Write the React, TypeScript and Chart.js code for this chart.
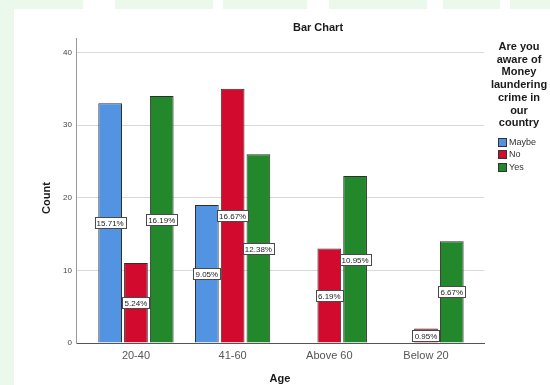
import React, { useEffect, useRef } from "react";
import { Chart, registerables } from "chart.js";

Chart.register(...registerables);

// Survey counts by age group, one array per answer
const AGE_GROUPS = ["20-40", "41-60", "Above 60", "Below 20"];
const MAYBE: (number | null)[] = [33, 19, null, null];
const NO: (number | null)[] = [11, 35, 13, 2];
const YES: (number | null)[] = [34, 26, 23, 14];
const SERIES_NAMES = ["Maybe", "No", "Yes"];
const SERIES_COLORS = ["#5294e2", "#d10a2e", "#23882b"];
const Y_TICKS = [0, 10, 20, 30, 40];
const LEGEND_TITLE = ["Are you", "aware of", "Money", "laundering", "crime in", "our", "country"];
const CHART_TITLE = "Bar Chart";
const X_TITLE = "Age";
const Y_TITLE = "Count";

const FONT = 'Arial, "Liberation Sans", sans-serif';
const SERIES = [MAYBE, NO, YES];
const TOTAL = SERIES.flat().reduce((a: number, v) => a + (v ?? 0), 0);

// Page backdrop: pale green sheet with a white panel on top
const backdrop = {
  id: "backdrop",
  beforeDraw(chart: Chart) {
    const { ctx, width, height } = chart;
    ctx.save();
    ctx.fillStyle = "#eaf9ec";
    ctx.fillRect(0, 0, width, height);
    ctx.fillStyle = "#ffffff";
    ctx.fillRect(14, 9, width - 14, height - 9);
    // breaks in the top band
    [[83, 32], [213, 10], [307, 22], [427, 16], [500, 10]].forEach(([x, w]) => {
      ctx.fillRect(x, 0, w, 9);
    });
    ctx.restore();
  },
};

// Percent-of-total boxes in the middle of each bar
const percentLabels = {
  id: "percentLabels",
  afterDatasetsDraw(chart: Chart) {
    const { ctx } = chart;
    ctx.save();
    ctx.font = `8px ${FONT}`;
    ctx.textAlign = "center";
    ctx.textBaseline = "middle";
    chart.data.datasets.forEach((_, di) => {
      const meta = chart.getDatasetMeta(di);
      meta.data.forEach((bar: any, i: number) => {
        const v = SERIES[di][i];
        if (v == null) return;
        const { x, y, base } = bar.getProps(["x", "y", "base"], true);
        const text = ((v / TOTAL) * 100).toFixed(2) + "%";
        const tw = ctx.measureText(text).width;
        const bw = Math.round(tw + 4);
        const bh = 11;
        const cy = (y + base) / 2;
        const left = Math.round(x - bw / 2) + 0.5;
        const top = Math.round(cy - bh / 2) + 0.5;
        ctx.fillStyle = "#ffffff";
        ctx.fillRect(left, top, bw, bh);
        ctx.strokeStyle = "#4a4a4a";
        ctx.lineWidth = 1;
        ctx.strokeRect(left, top, bw, bh);
        ctx.fillStyle = "#222222";
        ctx.fillText(text, x, top + bh / 2 + 0.5);
      });
    });
    ctx.restore();
  },
};

// Title, axis titles and the legend block at the right
const annotations = {
  id: "annotations",
  afterDraw(chart: Chart) {
    const { ctx, chartArea } = chart;
    ctx.save();
    ctx.fillStyle = "#1a1a1a";
    ctx.font = `bold 11px ${FONT}`;
    ctx.textAlign = "center";
    ctx.textBaseline = "middle";
    ctx.fillText(CHART_TITLE, 318, 28);
    ctx.fillText(X_TITLE, (chartArea.left + chartArea.right) / 2, 379);
    ctx.save();
    ctx.translate(47, 198);
    ctx.rotate(-Math.PI / 2);
    ctx.fillText(Y_TITLE, 0, 0);
    ctx.restore();

    LEGEND_TITLE.forEach((line, i) => {
      ctx.fillText(line, 519, 47 + i * 12.7);
    });

    ctx.font = `9px ${FONT}`;
    ctx.textAlign = "left";
    SERIES_NAMES.forEach((name, i) => {
      const cy = 142 + i * 12.5;
      ctx.fillStyle = SERIES_COLORS[i];
      ctx.fillRect(498, Math.round(cy - 4.5), 9, 9);
      ctx.strokeStyle = "#333";
      ctx.lineWidth = 1;
      ctx.strokeRect(498.5, Math.round(cy - 4.5) + 0.5, 8, 8);
      ctx.fillStyle = "#333";
      ctx.fillText(name, 509, cy + 0.5);
    });
    ctx.restore();
  },
};

export default function App() {
  const ref = useRef<HTMLCanvasElement | null>(null);

  useEffect(() => {
    if (!ref.current) return;
    const chart = new Chart(ref.current, {
      type: "bar",
      data: {
        datasets: SERIES.map((vals, si) => ({
          label: SERIES_NAMES[si],
          data: vals.map((v, i) => ({ x: i, y: v })),
          backgroundColor: SERIES_COLORS[si],
          borderColor: "#2e2e2e",
          borderWidth: 1,
          categoryPercentage: 0.8,
          barPercentage: 0.92,
        })) as any,
      },
      options: {
        animation: false,
        responsive: false,
        devicePixelRatio: 1,
        layout: { padding: { left: 0, top: 38, right: 66, bottom: 0 } },
        plugins: {
          legend: { display: false },
          title: { display: false },
          tooltip: { enabled: false },
        },
        scales: {
          x: {
            type: "linear",
            min: -0.62,
            max: 3.6,
            offset: false,
            grid: { display: false, offset: false, drawTicks: false },
            border: { display: true, color: "#555", width: 1 },
            afterBuildTicks: (s: any) => {
              s.ticks = AGE_GROUPS.map((_, i) => ({ value: i }));
            },
            ticks: {
              callback: (v: any) => AGE_GROUPS[v] ?? "",
              font: { family: FONT, size: 11 },
              color: "#555",
              padding: 6,
              autoSkip: false,
              maxRotation: 0,
            },
            afterFit: (s: any) => {
              s.height = 42;
            },
          },
          y: {
            min: 0,
            max: 42,
            afterBuildTicks: (s: any) => {
              s.ticks = Y_TICKS.map((v) => ({ value: v }));
            },
            ticks: {
              font: { family: FONT, size: 8 },
              color: "#444",
              padding: 4,
            },
            grid: { color: "#d9d9d9", drawTicks: false },
            border: { display: true, color: "#999", width: 1 },
            afterFit: (s: any) => {
              s.width = 76;
            },
          },
        } as any,
      },
      plugins: [backdrop, percentLabels, annotations],
    });
    return () => chart.destroy();
  }, []);

  return (
    <div style={{ position: "fixed", left: 0, top: 0, width: 550, height: 385 }}>
      <canvas ref={ref} width={550} height={385} style={{ display: "block" }} />
    </div>
  );
}
